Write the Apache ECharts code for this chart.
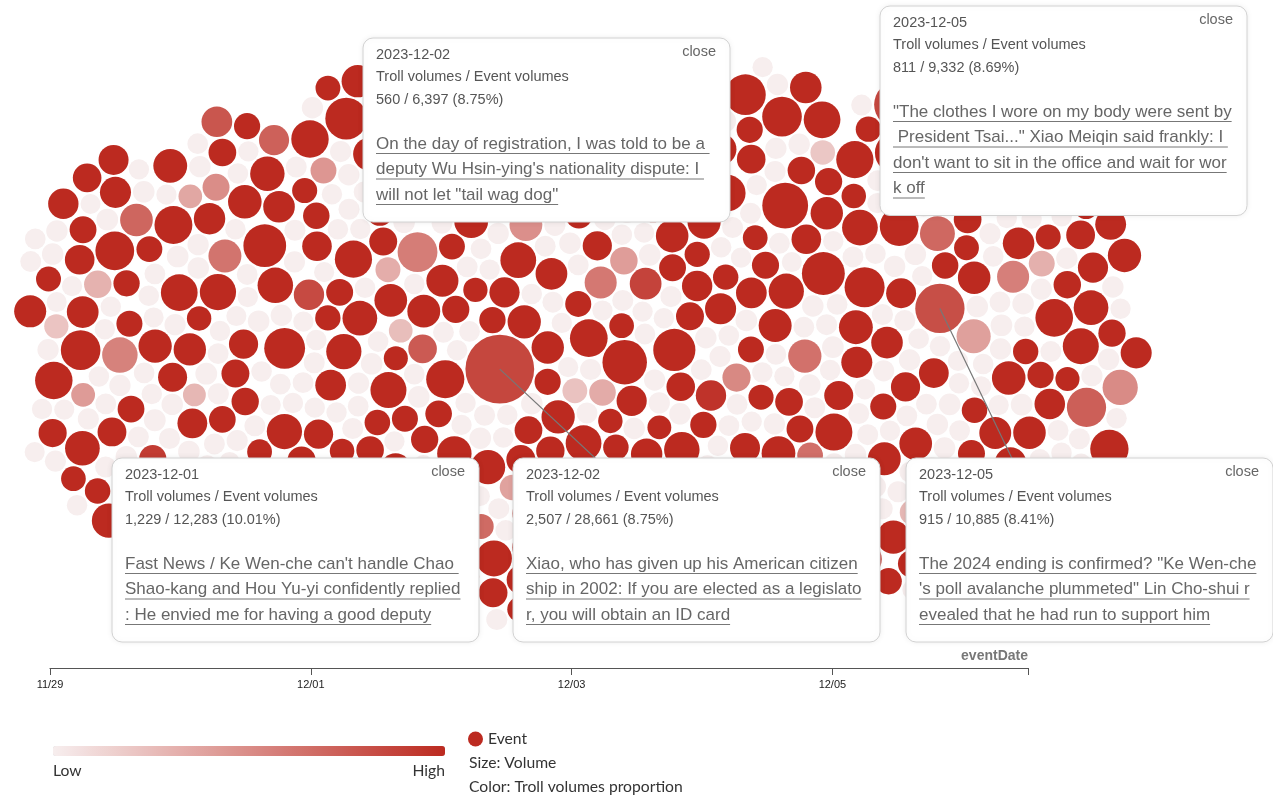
<!DOCTYPE html>
<html>
<head>
<meta charset="utf-8">
<script src="https://cdn.jsdelivr.net/npm/echarts@6/dist/echarts.min.js"></script>
<style>
  html, body { margin: 0; padding: 0; background: #fff; }
  #chart { width: 1273px; height: 798px; }
</style>
</head>
<body>
<div id="chart"></div>
<script>
// eventDate axis (days from 2023-11-29)
const tickLabels = ['11/29', '12/01', '12/03', '12/05'];

// events of each day: [event volume, troll volumes proportion (%)]
const ev1129 = [
  [2100,14.8],[60,0.9],[880,18.2],[120,0.6],[45,1.1],[4800,12.6],[90,0.4],[1500,21.3],[3400,6.2],[70,0.8],
  [150,1.2],[620,16.7],[55,0.5],[2600,13.9],[110,0.7],[980,4.1],[80,1.3],[5200,11.4],[65,0.6],[1300,19.5],
  [140,0.9],[720,25.1],[50,0.3],[1900,12.2],[95,1.0],[430,3.3],[75,0.7],[3100,15.6],[130,0.5],[860,17.9],
  [60,1.4],[2400,7.4],[100,0.8],[540,22.6],[85,0.6],[1150,13.1],[45,0.9],[6100,10.8],[120,1.1],[690,11.9],
  [70,0.4],[1700,16.3],[160,0.7],[380,5.1],[55,1.2],[2900,14.4],[90,0.5],[760,20.8],[110,0.8],[1250,12.7],
  [65,1.0],[4200,13.5],[140,0.6],[500,18.6],[80,1.3],[930,9.2],[50,0.7],[1600,15.2],[125,0.9],[2200,11.6]
];
const ev1130 = [
  [3300,13.2],[90,0.8],[1100,17.4],[60,0.5],[2500,6.8],[140,1.1],[700,19.9],[75,0.7],[5800,12.1],[110,0.4],
  [1400,14.6],[55,1.2],[840,23.5],[130,0.6],[260,3.9],[2000,11.3],[85,0.9],[3700,15.8],[70,0.3],[960,16.2],
  [150,1.0],[520,12.8],[45,0.7],[1800,8.1],[100,1.4],[4400,10.9],[65,0.6],[1200,18.7],[120,0.8],[610,14.1],
  [80,1.1],[2700,13.7],[95,0.5],[350,4.6],[160,0.9],[1550,21.2],[50,0.7],[780,11.8],[115,1.3],[3000,16.9],
  [70,0.4],[1050,12.4],[135,0.8],[460,19.3],[60,1.0],[2300,14.9],[90,0.6],[6800,11.1],[105,1.2],[890,5.7],
  [75,0.5],[1350,17.6],[145,0.9],[580,13.4],[55,0.7],[2050,15.1],[120,1.1],[740,22.3],[85,0.4],[3900,12.9],
  [65,0.8],[1000,10.6],[130,1.3],[420,16.4],[95,0.6],[1650,7.6],[50,1.0],[2800,18.1],[110,0.7],[650,13.8],
  [80,0.5],[1250,20.4],[2300,15.4],[105,0.9],[1700,12.6],[75,0.6],[3400,18.9],[130,1.0]
];
const ev1201 = [
  [4100,12.3],[100,0.7],[3100,15.9],[70,1.1],[1300,16.8],[140,0.5],[2400,14.2],[60,0.9],[880,19.7],[120,1.3],
  [3600,11.5],[85,0.6],[540,4.3],[155,0.8],[1950,17.2],[50,1.0],[720,13.6],[110,0.4],[5300,6.4],[75,1.2],
  [1100,21.8],[130,0.7],[2900,12.6],[65,0.9],[480,15.3],[95,0.5],[1500,18.9],[145,1.1],[800,11.2],[55,0.6],
  [3300,14.7],[120,0.8],[1020,24.6],[80,1.4],[360,3.6],[160,0.7],[2250,13.1],[70,1.0],[640,16.1],[105,0.5],
  [4700,11.9],[90,0.9],[1250,7.9],[60,1.2],[2650,15.4],[135,0.6],[560,20.2],[85,0.8],[1800,12.4],[115,1.0],
  [950,17.7],[50,0.4],[3800,13.3],[150,0.9],[690,5.3],[75,1.3],[1400,19.1],[125,0.7],[2100,11.7],[65,0.5],
  [410,14.5],[100,1.1],[6300,12.8],[80,0.6],[1150,16.6],[140,0.8],[760,22.9],[55,1.0],[2450,10.7],[95,0.7],
  [520,18.3],[130,1.2],[1700,8.6],[70,0.5],[12283,10.01],[110,0.9],[860,12.2],[60,0.6],[1950,20.6],[145,1.1],
  [600,13.9],[85,0.4],[2750,17.3],[120,0.8],[2900,13.4],[95,0.7],[1850,19.0],[65,1.1],[4200,14.9],[140,0.5],
  [2400,11.2],[80,0.9],[3300,16.1]
];
const ev1202 = [
  [3500,14.1],[140,0.6],[90,0.8],[1200,18.4],[60,1.1],[2300,12.7],[28661,8.75],[780,16.9],[100,0.9],[4500,11.4],
  [75,1.3],[1600,21.5],[125,0.5],[520,3.4],[50,0.7],[2800,15.2],[155,1.0],[940,13.6],[85,0.6],[145,0.8],
  [110,1.2],[1350,19.8],[65,0.8],[3900,12.9],[135,0.4],[700,17.1],[95,0.9],[2050,6.1],[60,1.1],[1050,14.8],
  [145,0.7],[5600,10.9],[80,1.4],[440,22.7],[115,0.5],[1750,13.2],[70,0.8],[2600,16.4],[130,1.0],[850,11.6],
  [55,0.6],[3200,18.8],[105,1.2],[620,4.8],[150,0.7],[1450,15.7],[90,0.9],[4100,12.1],[65,0.5],[990,20.3],
  [120,1.1],[2200,14.3],[75,0.8],[560,7.2],[140,0.6],[1900,17.5],[50,1.0],[7200,11.8],[100,0.4],[830,13.9],
  [85,1.3],[1300,24.1],[125,0.7],[2950,12.5],[60,0.9],[470,16.2],[110,0.6],[1650,10.6],[95,1.2],[3600,19.4],
  [6397,8.75],[740,14.6],[70,0.5],[2450,5.6],[135,1.0],[1150,18.1],[55,0.7],[4900,13.4],[115,1.1],[680,11.3],
  [80,0.6],[2100,21.9],[150,0.9],[900,15.5],[65,1.3],[3000,12.0],[105,0.5],[590,17.8],[2600,12.8],[100,1.0],
  [3900,16.0],[60,0.6],[1950,23.2],[135,0.8],[5100,13.1],[85,1.2],[2200,14.0]
];
const ev1203 = [
  [5000,13.0],[85,0.7],[1700,17.3],[130,1.0],[880,12.2],[60,0.5],[3400,15.6],[110,1.2],[620,20.9],[75,0.8],
  [2200,6.6],[150,0.6],[1250,14.4],[55,1.1],[7800,11.7],[100,0.9],[460,18.5],[140,0.4],[2700,13.8],[70,1.3],
  [980,16.1],[120,0.7],[4300,12.6],[90,1.0],[540,3.7],[65,0.6],[1550,19.2],[135,0.8],[3100,11.0],[80,1.2],
  [720,15.0],[155,0.5],[2000,22.4],[60,0.9],[1100,12.9],[115,0.7],[5900,14.7],[95,1.1],[380,17.0],[50,0.6],
  [1850,7.8],[125,1.0],[2550,13.5],[75,0.4],[840,21.6],[145,0.8],[1400,11.4],[85,1.2],[3700,16.7],[65,0.7],
  [640,12.3],[110,0.9],[2350,18.0],[130,0.5],[1000,5.0],[55,1.1],[4600,13.1],[100,0.6],[760,15.9],[140,0.8],
  [1650,19.6],[70,1.3],[2900,11.9],[120,0.7],[500,14.0],[90,1.0],[1300,23.3],[150,0.5],[3500,12.7],[60,0.9],
  [900,17.4],[105,0.6],[2100,8.9],[80,1.2],[680,13.3],[135,0.8],[6500,11.2],[50,0.4],[1450,16.5],[115,1.0],
  [580,20.1],[95,0.7],[2650,14.9],[145,1.1],[820,4.4],[70,0.6],[1900,12.8],[125,0.9],[3100,18.1],[120,0.8],
  [2400,12.4],[70,1.0],[4500,15.2],[145,0.6],[1800,11.8],[90,0.9],[3600,13.9]
];
const ev1204 = [
  [6900,11.6],[95,0.8],[1500,16.0],[60,1.1],[2500,13.9],[140,0.6],[700,19.0],[80,0.9],[4000,12.4],[120,1.3],
  [1150,5.9],[55,0.5],[3300,17.9],[150,0.8],[520,14.2],[100,1.0],[1800,21.1],[70,0.7],[8600,12.0],[130,0.4],
  [920,15.3],[85,1.2],[2750,11.5],[65,0.6],[430,18.6],[145,0.9],[1350,13.0],[110,0.7],[3800,16.6],[75,1.1],
  [660,7.0],[125,0.5],[2150,14.5],[50,0.8],[1050,20.5],[135,1.0],[5200,12.6],[90,0.6],[790,17.2],[60,1.3],
  [1600,11.8],[115,0.7],[2950,15.8],[80,0.9],[480,3.2],[150,0.5],[1250,19.3],[70,1.1],[4400,13.6],[105,0.8],
  [870,12.1],[55,0.6],[2300,24.8],[140,1.0],[610,14.8],[95,0.7],[1700,9.6],[120,1.2],[3400,16.3],[65,0.4],
  [1000,12.7],[130,0.9],[5700,18.2],[85,0.6],[560,11.1],[110,1.1],[1450,15.1],[75,0.8],[2600,6.9],[145,0.5],
  [740,20.0],[60,1.0],[1900,13.7],[100,0.7],[3000,17.0],[125,1.2],[950,11.3],[80,0.6],[2050,14.6],[155,0.9],
  [510,22.1],[70,0.7],[1300,12.5],[115,1.0],[2700,14.1],[110,0.6],[3900,12.2],[75,1.1],[2100,17.7],[135,0.7],
  [4800,11.9],[60,0.9],[1950,15.6]
];
const ev1205 = [
  [3700,13.7],[85,0.9],[95,0.8],[130,0.6],[1400,17.6],[60,1.1],[2400,12.0],[110,0.7],[10885,8.41],[75,1.3],
  [800,15.4],[145,0.5],[4800,11.3],[530,11.9],[1150,20.7],[55,1.0],[2900,4.9],[125,0.6],[620,14.1],[80,1.2],
  [1900,18.3],[150,0.7],[5400,12.8],[65,0.9],[900,16.8],[115,0.4],[3200,7.3],[90,1.1],[470,13.2],[140,0.8],
  [1600,22.0],[70,0.6],[2600,11.7],[105,1.0],[1050,15.7],[50,0.7],[6200,13.5],[135,1.3],[720,19.1],[85,0.5],
  [2100,12.3],[120,0.9],[560,3.8],[60,1.1],[1350,17.7],[150,0.6],[3500,14.3],[95,0.8],[850,10.8],[75,1.2],
  [2250,16.9],[130,0.5],[680,6.0],[110,1.0],[4100,12.2],[55,0.7],[1200,21.4],[140,0.9],[1750,13.8],[80,0.6],
  [3000,5.4],[100,1.1],[600,15.0],[65,0.8],[2450,18.7],[125,0.4],[960,12.6],[90,1.3],[1550,16.0],[145,0.7],
  [9332,8.69],[70,1.0],[2800,14.6],[115,0.6],[780,19.8],[85,0.9],[2350,13.3],[100,0.8],[3800,15.9],[65,1.2],
  [2050,11.5],[140,0.5],[4300,17.4],[90,0.9]
];
const ev1206 = [
  [4300,12.9],[90,0.7],[1300,17.0],[140,1.1],[2200,6.3],[65,0.5],[760,14.9],[115,0.9],[3600,11.6],[80,1.2],
  [1000,20.2],[150,0.6],[540,13.1],[55,0.8],[2700,16.2],[125,1.0],[5000,7.7],[95,0.4],[1650,12.4],[70,1.3],
  [880,18.8],[135,0.7],[1950,11.0],[60,0.9],[420,15.5],[110,0.6],[3100,13.6],[85,1.1],[700,4.2],[145,0.8],
  [1450,21.7],[75,0.5],[2500,12.1],[120,1.0],[960,16.7],[50,0.7],[6000,14.0],[100,1.2],[600,19.5],[130,0.6],
  [1750,11.4],[65,0.9],[3300,5.8],[155,0.5],[820,13.9],[90,1.1],[2050,17.3],[115,0.8],[1150,12.2],[70,0.6],
  [4600,15.3],[140,1.0],[520,20.9],[85,0.7],[1550,11.9],[60,1.2],[2850,14.4],[125,0.5],[740,8.2],[95,0.9],
  [1850,16.4],[150,0.6],[940,12.5],[75,1.1],[2350,18.4],[110,0.8],[650,13.0],[80,0.7],[2600,14.7],[105,0.9],
  [3700,12.3],[70,0.6],[2150,19.3],[130,1.1],[4900,13.3],[85,0.7],[1900,11.7],[120,0.5]
];
const days = [ev1129, ev1130, ev1201, ev1202, ev1203, ev1204, ev1205, ev1206];

// pinned tooltips
const noteDates = ['2023-12-02', '2023-12-05', '2023-12-01', '2023-12-02', '2023-12-05'];
const noteTroll = [560, 811, 1229, 2507, 915];
const noteVolume = [6397, 9332, 12283, 28661, 10885];
const noteTitles = [
  ['On the day of registration, I was told to be a ', "deputy Wu Hsin-ying's nationality dispute: I ", 'will not let "tail wag dog"'],
  ['"The clothes I wore on my body were sent by', ' President Tsai..." Xiao Meiqin said frankly: I ', "don't want to sit in the office and wait for wor", 'k off'],
  ["Fast News / Ke Wen-che can't handle Chao ", 'Shao-kang and Hou Yu-yi confidently replied', ': He envied me for having a good deputy'],
  ['Xiao, who has given up his American citizen', 'ship in 2002: If you are elected as a legislato', 'r, you will obtain an ID card'],
  ['The 2024 ending is confirmed? "Ke Wen-che', '\'s poll avalanche plummeted" Lin Cho-shui r', 'evealed that he had run to support him']
];
const noteBoxes = [[363, 38], [880, 6], [112, 458], [513, 458], [906, 458]];

const BOX_W = 367;
const FONT = '"Liberation Sans", Arial, sans-serif';
const LEG_FONT = 'Lato, "Noto Sans", sans-serif';
const HEAD_SIZE = 17;

function radius(vol) { return 9 + 0.15 * Math.sqrt(vol); }

const chart = echarts.init(document.getElementById('chart'));

chart.setOption({
  animation: false,
  grid: { left: 50, right: 245, top: 10, bottom: 130 },
  xAxis: {
    type: 'value', min: 0, max: 7.5, interval: 2,
    name: 'eventDate', nameLocation: 'end', nameGap: 0,
    nameTextStyle: { align: 'right', verticalAlign: 'bottom', padding: [0, 0, 5, 0],
      fontWeight: 'bold', fontSize: 14, color: '#777', fontFamily: FONT },
    axisLine: { onZero: false, lineStyle: { color: '#555', width: 1.2 } },
    axisTick: { length: 7, lineStyle: { color: '#555' } },
    axisLabel: {
      fontSize: 11, color: '#222', margin: 11, fontFamily: FONT,
      formatter: function (v) { return Number.isInteger(v / 2) ? tickLabels[v / 2] : ''; }
    },
    splitLine: { show: false }
  },
  yAxis: { type: 'value', min: -1, max: 1, show: false },
  visualMap: {
    type: 'continuous', seriesIndex: 0, dimension: 3,
    min: 1.5, max: 10, calculable: false, hoverLink: false,
    orient: 'horizontal', left: 53, top: 746, padding: 0,
    itemWidth: 10, itemHeight: 392,
    inRange: { color: ['#f7eeee', '#bc2a20'] }
  },
  legend: {
    data: ['Event'], left: 468, top: 731, padding: 0,
    icon: 'circle', itemWidth: 15, itemHeight: 15, selectedMode: false,
    textStyle: { fontSize: 15.7, color: '#333', fontFamily: LEG_FONT }
  },
  series: [{ name: 'Event', type: 'scatter', data: [] }]
});

// force layout of the swarm: x pulled to the event date, y to the middle line
function swarm(nodes, cy) {
  const SX = 0.12, SY = 0.022;
  const golden = Math.PI * (3 - Math.sqrt(5));
  nodes.forEach(function (d) {
    const rad = 9 * Math.sqrt(0.5 + d.k), a = d.k * golden;
    d.x = d.tx + rad * Math.cos(a);
    d.y = cy + rad * Math.sin(a);
    d.vx = 0; d.vy = 0;
  });
  const maxR = Math.max.apply(null, nodes.map(function (d) { return d.cr; }));
  function collide() {
    nodes.forEach(function (d) { d.px = d.x + d.vx; });
    const order = nodes.slice().sort(function (a, b) { return a.px - b.px; });
    for (let i = 0; i < order.length; i++) {
      const a = order[i];
      const xa = a.x + a.vx, ya = a.y + a.vy;
      for (let j = i + 1; j < order.length; j++) {
        const b = order[j];
        if (b.px - a.px > a.cr + maxR + 4) break;
        const R = a.cr + b.cr;
        let dx = xa - (b.x + b.vx), dy = ya - (b.y + b.vy);
        let l = dx * dx + dy * dy;
        if (l < R * R) {
          if (l === 0) { dx = (i % 2 ? 1 : -1) * 1e-3; l = dx * dx; }
          const dist = Math.sqrt(l);
          const s = (R - dist) / dist * 0.9;
          dx *= s; dy *= s;
          const ra = a.cr * a.cr, rb = b.cr * b.cr, w = rb / (ra + rb);
          a.vx += dx * w; a.vy += dy * w;
          b.vx -= dx * (1 - w); b.vy -= dy * (1 - w);
        }
      }
    }
  }
  let alpha = 1;
  const decay = 1 - Math.pow(0.001, 1 / 300);
  for (let t = 0; t < 360; t++) {
    alpha += -alpha * decay;
    const f = t < 300 ? alpha : 0;
    nodes.forEach(function (d) {
      d.vx += (d.tx - d.x) * SX * f;
      d.vy += (cy - d.y) * SY * f;
    });
    collide(); collide();
    nodes.forEach(function (d) {
      d.vx *= 0.6; d.vy *= 0.6;
      d.x += d.vx; d.y += d.vy;
    });
  }
}

const nodes = [];
days.forEach(function (list, di) {
  list.forEach(function (e, k) { nodes.push({ day: di, k: k, vol: e[0], pct: e[1] }); });
});
const cy = chart.convertToPixel({ yAxisIndex: 0 }, 0);
nodes.forEach(function (n) {
  n.tx = chart.convertToPixel({ xAxisIndex: 0 }, n.day + 0.5);
  n.r = radius(n.vol);
  n.cr = n.r + 1;
});
swarm(nodes, cy);

const seriesData = nodes.map(function (n) {
  return [chart.convertFromPixel({ xAxisIndex: 0 }, n.x), chart.convertFromPixel({ yAxisIndex: 0 }, n.y), n.vol, n.pct];
});

// tooltip boxes
const measure = document.createElement('canvas').getContext('2d');
measure.font = HEAD_SIZE + 'px ' + FONT;
function fmt(v) { return v.toLocaleString('en-US'); }
function label(x, y, text, size, color, align) {
  return { type: 'text', x: x, y: y, z: 101, style: {
    text: text, fill: color, fontSize: size, fontFamily: FONT,
    align: align || 'left', textAlign: align || 'left', verticalAlign: 'middle', textVerticalAlign: 'middle' } };
}

const leaders = [];
const boxes = [];
noteVolume.forEach(function (vol, i) {
  const n = nodes.find(function (d) { return d.vol === vol; });
  const bx = noteBoxes[i][0], by = noteBoxes[i][1];
  const lines = noteTitles[i];
  const h = 106 + (lines.length - 1) * 25.5 + 27;
  leaders.push({
    type: 'line', z: 90, silent: true,
    shape: { x1: n.x, y1: n.y, x2: bx + 125, y2: by + 40 },
    style: { stroke: '#777', lineWidth: 1.2 }
  });
  const kids = [
    { type: 'rect', z: 100, shape: { x: 0, y: 0, width: BOX_W, height: h, r: 10 },
      style: { fill: '#fff', stroke: '#d2d2d2', lineWidth: 1, shadowBlur: 6, shadowColor: 'rgba(0,0,0,0.08)' } },
    label(13, 16.5, noteDates[i], 14.5, '#555'),
    label(BOX_W - 14, 14, 'close', 14.5, '#666', 'right'),
    label(13, 39, 'Troll volumes / Event volumes', 14.5, '#555'),
    label(13, 61.5, fmt(noteTroll[i]) + ' / ' + fmt(vol) + ' (' + (noteTroll[i] / vol * 100).toFixed(2) + '%)', 14.5, '#555')
  ];
  lines.forEach(function (txt, li) {
    const ly = 106 + li * 25.5;
    kids.push(label(13, ly, txt, HEAD_SIZE, '#666'));
    kids.push({ type: 'line', z: 101, shape: { x1: 13, y1: ly + 9.5, x2: 13 + measure.measureText(txt).width, y2: ly + 9.5 },
      style: { stroke: '#777', lineWidth: 1 } });
  });
  boxes.push({ type: 'group', x: bx, y: by, z: 100, silent: true, children: kids });
});

function legendText(pos, text) {
  return Object.assign({ type: 'text', z: 100, style: { text: text, fill: '#333', fontSize: 15.7, fontFamily: LEG_FONT } }, pos);
}
const legendTexts = [
  legendText({ left: 53, top: 763 }, 'Low'),
  legendText({ right: 1273 - 445, top: 763 }, 'High'),
  legendText({ left: 469, top: 755 }, 'Size: Volume'),
  legendText({ left: 469, top: 779 }, 'Color: Troll volumes proportion')
];

chart.setOption({
  series: [{
    name: 'Event', type: 'scatter', data: seriesData, clip: false,
    symbol: 'circle',
    symbolSize: function (v) { return 2 * radius(v[2]); },
    itemStyle: { color: '#bc2a20', opacity: 1 },
    emphasis: { disabled: true }
  }],
  graphic: { elements: leaders.concat(boxes, legendTexts) }
});
</script>
</body>
</html>
